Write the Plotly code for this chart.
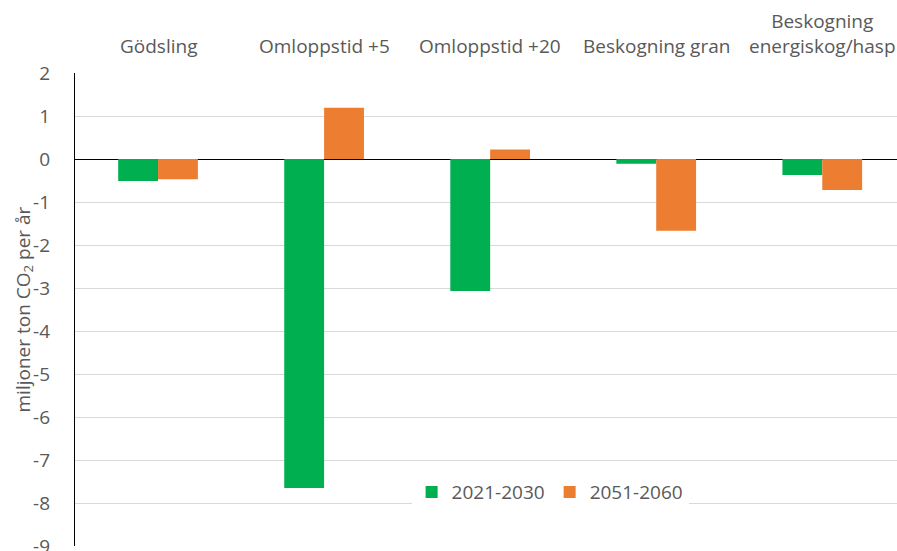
import plotly.graph_objects as go

categories = ["Gödsling", "Omloppstid +5", "Omloppstid +20", "Beskogning gran", "Beskogning<br>energiskog/hasp"]
series_names = ["2021-2030", "2051-2060"]
values_2021_2030 = [-0.51, -7.65, -3.07, -0.11, -0.37]
values_2051_2060 = [-0.47, 1.19, 0.22, -1.67, -0.72]
y_tickvals = [2, 1, 0, -1, -2, -3, -4, -5, -6, -7, -8, -9]
y_ticktext = ["2", "1", "0", "-1", "-2", "-3", "-4", "-5", "-6", "-7", "-8", "-9"]
y_title = "miljoner ton CO<sub>2</sub> per år"

GREEN = "#00b050"
ORANGE = "#ed7d31"
GRAY = "#595959"
FONT = "Open Sans, Liberation Sans, sans-serif"
FS = 19

x = list(range(len(categories)))

fig = go.Figure()
fig.add_trace(go.Bar(x=x, y=values_2021_2030, name=series_names[0], marker_color=GREEN,
                     marker_line_width=0))
fig.add_trace(go.Bar(x=x, y=values_2051_2060, name=series_names[1], marker_color=ORANGE,
                     marker_line_width=0))

for i, c in enumerate(categories):
    fig.add_annotation(x=i, y=1, xref="x", yref="paper", text=c, showarrow=False,
                       yanchor="bottom", yshift=12, font=dict(size=FS, color=GRAY, family=FONT))

fig.add_annotation(x=0, y=0.5, xref="paper", yref="paper", text=y_title, showarrow=False,
                   textangle=-90, xanchor="center", yanchor="middle", xshift=-52,
                   font=dict(size=FS, color=GRAY, family=FONT))

fig.update_layout(
    width=897, height=551,
    margin=dict(l=75, r=0, t=73, b=5, autoexpand=False),
    plot_bgcolor="white", paper_bgcolor="white",
    barmode="group", bargap=0.52, bargroupgap=0,
    font=dict(family=FONT, color=GRAY, size=FS),
    showlegend=True,
    legend=dict(orientation="h", x=0.578, y=0.114, xanchor="center", yanchor="middle",
                bgcolor="white", font=dict(size=FS, color=GRAY, family=FONT),
                itemwidth=30, traceorder="normal"),
    xaxis=dict(range=[-0.5, 4.45], showticklabels=False, showgrid=False, zeroline=False,
               showline=False, ticks="", automargin=False),
    yaxis=dict(range=[-9, 2], tickvals=y_tickvals, ticktext=y_ticktext, showgrid=True,
               gridcolor="#d9d9d9", gridwidth=1, zeroline=True, zerolinecolor="#000000",
               zerolinewidth=1.3, showline=True, linecolor="#000000", linewidth=1.3,
               ticks="", automargin=False, ticklabeloverflow="allow",
               ticklabelstandoff=20, tickfont=dict(size=FS, color=GRAY)),
)

fig.write_html("out.html", config={"displayModeBar": False},
               post_script="document.body.style.margin='0';document.body.style.overflow='hidden';")
